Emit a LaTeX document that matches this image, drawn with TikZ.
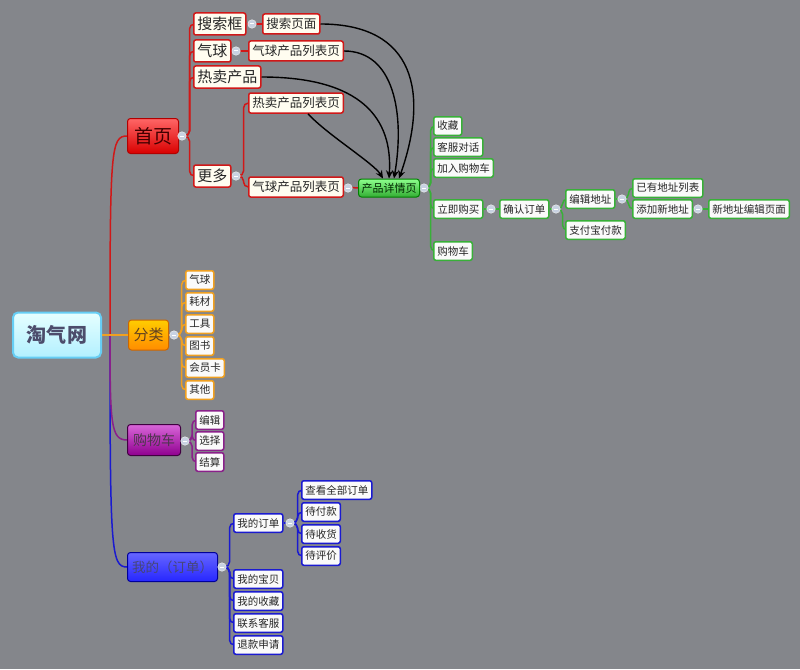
\documentclass[tikz,border=0pt]{standalone}
\usepackage{fontspec}
\setmainfont{Noto Sans CJK SC}
\usetikzlibrary{arrows.meta}
\pgfdeclarelayer{back}
\pgfdeclarelayer{bg}
\pgfsetlayers{back,bg,main}
\definecolor{bgc}{HTML}{84868B}
\definecolor{cream}{HTML}{FFFDF0}
\definecolor{rl}{HTML}{D01818}
\definecolor{ol}{HTML}{F0A020}
\definecolor{pl}{HTML}{8A208A}
\definecolor{bl}{HTML}{1A1AD0}
\definecolor{gl}{HTML}{38B038}
\definecolor{circfill}{HTML}{C8D2E2}
\tikzset{
  box/.style={draw, line width=1.5pt, rounded corners=2pt, inner xsep=3.5pt, inner ysep=0pt, anchor=west, text=black!85},
  bigbox/.style={box, font=\fontsize{15}{15}\selectfont, minimum height=22pt, fill=cream},
  midbox/.style={box, font=\fontsize{12.5}{12.5}\selectfont, minimum height=20pt, fill=cream},
  smallbox/.style={box, font=\fontsize{10.5}{10.5}\selectfont, minimum height=18.5pt, inner xsep=3.5pt, fill=white!96!gray},
  mainbox/.style={draw, line width=1pt, rounded corners=3pt, anchor=west, inner sep=0pt},
  circ/.style={circle, fill=circfill, draw=white!85!gray, line width=0.5pt, minimum size=8.5pt, inner sep=0pt,
    path picture={\draw[white, line width=1pt] ([xshift=-2.3pt]path picture bounding box.center) -- ([xshift=2.3pt]path picture bounding box.center);}},
  con/.style={line width=1.5pt, rounded corners=5pt},
  arr/.style={line width=1.4pt, black, -{Stealth[length=8pt,width=7pt]}}
}
\begin{document}
\begin{tikzpicture}[x=1pt,y=-1pt]
\begin{pgfonlayer}{back}
\fill[bgc] (0,0) rectangle (800,669);
\end{pgfonlayer}
\useasboundingbox (0,0) rectangle (800,669);

% root and main nodes
\node[draw=cyan!60!white, line width=2pt, rounded corners=5pt, top color=white!90!cyan, bottom color=blue!20!cyan!30!white,
  minimum width=88pt, minimum height=45pt, inner sep=0pt, font=\fontsize{20}{20}\selectfont\bfseries, text=black!70!blue!40!gray] (root) at (57,335) {淘气网};
\node[mainbox, top color=red!60!white, bottom color=red!85!black, draw=red!70!black, minimum width=51pt, minimum height=35pt,
  font=\fontsize{19}{19}\selectfont, text=red!25!black] (home) at (127,136) {首页};
\node[mainbox, top color=yellow!60!orange, bottom color=orange!90!yellow, draw=orange!80!black, minimum width=40pt, minimum height=30pt,
  font=\fontsize{15}{15}\selectfont, text=brown!50!black] (cat) at (128,335) {分类};
\node[mainbox, top color=violet!50!magenta!60!white, bottom color=violet!60!magenta!80!black, draw=violet!50!black, minimum width=53pt, minimum height=31pt,
  font=\fontsize{14}{14}\selectfont, text=violet!30!gray!60!black] (cart) at (127,440) {购物车};
\node[mainbox, top color=blue!60!white, bottom color=blue!85!white, draw=blue!60!black, minimum width=90pt, minimum height=29pt,
  font=\fontsize{13.5}{13.5}\selectfont, text={rgb,255:red,70;green,70;blue,120}] (mine) at (127,567) {我的（订单）};

% collapse circles
\node[circ] (ch) at (182,136) {};
\node[circ] (cs) at (252,24) {};
\node[circ] (cb) at (236,51) {};
\node[circ] (cm) at (236,176) {};
\node[circ] (cq) at (348,188) {};
\node[circ] (cp) at (424,188) {};
\node[circ] (cl) at (491,209) {};
\node[circ] (cc) at (556,209) {};
\node[circ] (ce) at (622,199) {};
\node[circ] (ca) at (698,209) {};
\node[circ] (ccat) at (174,335) {};
\node[circ] (ccart) at (185,441) {};
\node[circ] (cmine) at (222,567) {};
\node[circ] (corder) at (290,523) {};

% home branch
\node[bigbox, draw=rl] (s) at (193,24) {搜索框};
\node[bigbox, draw=rl] (b) at (193,51) {气球};
\node[bigbox, draw=rl] (h) at (193,77) {热卖产品};
\node[bigbox, draw=rl] (m) at (193,176) {更多};
\node[midbox, draw=rl] (sp) at (262,24) {搜索页面};
\node[midbox, draw=rl] (bp) at (248,51) {气球产品列表页};
\node[midbox, draw=rl] (hp) at (248,103) {热卖产品列表页};
\node[midbox, draw=rl] (bq) at (248,187) {气球产品列表页};
\node[mainbox, top color=green!45!white, bottom color=green!60!black!80!white, draw=green!50!black, minimum width=61pt, minimum height=18pt,
  font=\fontsize{11}{11}\selectfont, text=green!15!black] (pd) at (358,188) {产品详情页};

% green
\node[smallbox, draw=gl] (g1) at (433,126) {收藏};
\node[smallbox, draw=gl] (g2) at (433,147) {客服对话};
\node[smallbox, draw=gl] (g3) at (433,168) {加入购物车};
\node[smallbox, draw=gl] (g4) at (433,209) {立即购买};
\node[smallbox, draw=gl] (g5) at (433,251) {购物车};
\node[smallbox, draw=gl] (g6) at (499,209) {确认订单};
\node[smallbox, draw=gl] (g7) at (565,199) {编辑地址};
\node[smallbox, draw=gl] (g8) at (565,230) {支付宝付款};
\node[smallbox, draw=gl] (g9) at (632,188) {已有地址列表};
\node[smallbox, draw=gl] (g10) at (632,209) {添加新地址};
\node[smallbox, draw=gl] (g11) at (708,209) {新地址编辑页面};

% orange
\node[smallbox, draw=ol] (o1) at (185,280) {气球};
\node[smallbox, draw=ol] (o2) at (185,302) {耗材};
\node[smallbox, draw=ol] (o3) at (185,324) {工具};
\node[smallbox, draw=ol] (o4) at (185,346) {图书};
\node[smallbox, draw=ol] (o5) at (185,368) {会员卡};
\node[smallbox, draw=ol] (o6) at (185,390) {其他};

% purple
\node[smallbox, draw=pl] (p1) at (195,420) {编辑};
\node[smallbox, draw=pl] (p2) at (195,441) {选择};
\node[smallbox, draw=pl] (p3) at (195,462) {结算};

% blue
\node[smallbox, draw=bl] (u1) at (233,523) {我的订单};
\node[smallbox, draw=bl] (u2) at (233,579) {我的宝贝};
\node[smallbox, draw=bl] (u3) at (233,601) {我的收藏};
\node[smallbox, draw=bl] (u4) at (233,623) {联系客服};
\node[smallbox, draw=bl] (u5) at (233,645) {退款申请};
\node[smallbox, draw=bl] (v1) at (301,490) {查看全部订单};
\node[smallbox, draw=bl] (v2) at (301,512) {待付款};
\node[smallbox, draw=bl] (v3) at (301,534) {待收货};
\node[smallbox, draw=bl] (v4) at (301,556) {待评价};

\begin{pgfonlayer}{bg}
% main branches
\coordinate (rj) at ([xshift=8pt]root.east);
\draw[rl, line width=1.5pt] (rj) .. controls ([yshift=185pt]rj) and ([xshift=-16pt]home.west) .. (home.west);
\draw[bl, line width=1.5pt] (rj) .. controls ([yshift=-215pt]rj) and ([xshift=-16pt]mine.west) .. (mine.west);
\draw[pl, line width=1.5pt] (rj) .. controls ([yshift=-90pt]rj) and ([xshift=-16pt]cart.west) .. (cart.west);
\draw[ol, line width=1.6pt] (root.east) -- (cat.west);

% home connectors
\draw[con, rl] (home.east) -- (ch.center);
\foreach \n in {s,b,h,m} \draw[con, rl] (ch.center) -- ([xshift=3pt]ch.east) |- (\n.west);
\draw[con, rl] (s.east) -- (sp.west);
\draw[con, rl] (b.east) -- (bp.west);
\draw[con, rl] (m.east) -- (cm.center);
\foreach \n in {hp,bq} \draw[con, rl] (cm.center) -- ([xshift=3pt]cm.east) |- (\n.west);
\draw[con, rl] (bq.east) -- (pd.west);

% green connectors
\draw[con, gl] (pd.east) -- (cp.center);
\foreach \n in {g1,g2,g3,g4,g5} \draw[con, gl] (cp.center) -- ([xshift=2pt]cp.east) |- (\n.west);
\draw[con, gl] (g4.east) -- (g6.west);
\draw[con, gl] (g6.east) -- (cc.center);
\foreach \n in {g7,g8} \draw[con, gl] (cc.center) -- ([xshift=2pt]cc.east) |- (\n.west);
\draw[con, gl] (g7.east) -- (ce.center);
\foreach \n in {g9,g10} \draw[con, gl] (ce.center) -- ([xshift=2pt]ce.east) |- (\n.west);
\draw[con, gl] (g10.east) -- (g11.west);

% orange connectors
\draw[con, ol] (cat.east) -- (ccat.center);
\foreach \n in {o1,o2,o3,o4,o5,o6} \draw[con, ol] (ccat.center) -- ([xshift=3pt]ccat.east) |- (\n.west);

% purple connectors
\draw[con, pl] (cart.east) -- (ccart.center);
\foreach \n in {p1,p2,p3} \draw[con, pl] (ccart.center) -- ([xshift=2.5pt]ccart.east) |- (\n.west);

% blue connectors
\draw[con, bl] (mine.east) -- (cmine.center);
\foreach \n in {u1,u2,u3,u4,u5} \draw[con, bl] (cmine.center) -- ([xshift=3pt]cmine.east) |- (\n.west);
\draw[con, bl] (u1.east) -- (corder.center);
\foreach \n in {v1,v2,v3,v4} \draw[con, bl] (corder.center) -- ([xshift=3pt]corder.east) |- (\n.west);
\end{pgfonlayer}

% arrows to product detail page
\draw[arr] (sp.east) .. controls ([xshift=95pt]sp.east) and ([xshift=40pt,yshift=85pt]pd.north) .. ([xshift=10pt]pd.north);
\draw[arr] (bp.east) .. controls ([xshift=50pt]bp.east) and ([xshift=16pt,yshift=65pt]pd.north) .. ([xshift=5pt]pd.north);
\draw[arr] (h.east) .. controls ([xshift=100pt]h.east) and ([xshift=4pt,yshift=60pt]pd.north) .. ([xshift=0pt]pd.north);
\draw[arr] ([xshift=12pt]hp.south) .. controls ([xshift=30pt,yshift=-20pt]hp.south) and ([xshift=-15pt,yshift=15pt]pd.north) .. ([xshift=-6pt]pd.north);
\end{tikzpicture}
\end{document}
